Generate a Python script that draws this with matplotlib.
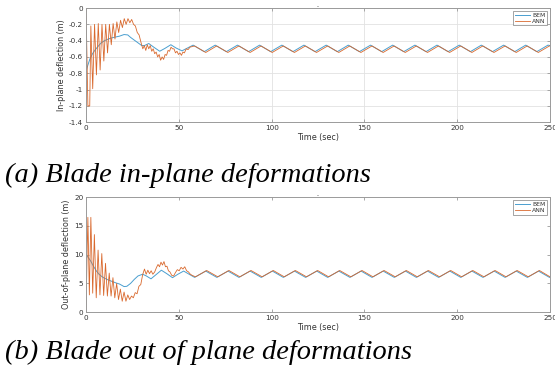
import matplotlib
matplotlib.use("Agg")
import matplotlib.pyplot as plt

# ---- data ----
# (a) in-plane deflection (m)
bem_in_t = [0, 1, 2, 3.5, 5, 6.5, 8, 10, 12, 14, 16, 18, 20.5, 22.5, 24, 25.5,
            27, 28.5, 30, 31.5, 33.8, 36.5, 39.7, 42.5, 45.7, 48.5, 51.7,
            57.7, 63.7, 69.6, 75.6, 81.6, 87.6, 93.5, 99.5, 105.5, 111.5, 117.4,
            123.4, 129.4, 135.4, 141.3, 147.3, 153.3, 159.3, 165.2, 171.2, 177.2,
            183.2, 189.1, 195.1, 201.1, 207.1, 213.0, 219.0, 225.0, 231.0, 236.9,
            242.9, 248.9, 250]
bem_in_v = [-0.78, -0.70, -0.63, -0.56, -0.51, -0.47, -0.43, -0.40, -0.38, -0.365,
            -0.355, -0.345, -0.325, -0.33, -0.36, -0.385, -0.41, -0.435, -0.46,
            -0.46, -0.435, -0.48, -0.53, -0.495, -0.45, -0.49, -0.525,
            -0.455, -0.535, -0.455, -0.535, -0.455, -0.535, -0.455, -0.535, -0.455,
            -0.535, -0.455, -0.535, -0.455, -0.535, -0.455, -0.535, -0.455, -0.535,
            -0.455, -0.535, -0.455, -0.535, -0.455, -0.535, -0.455, -0.535, -0.455,
            -0.535, -0.455, -0.535, -0.455, -0.535, -0.455, -0.46]

ann_in_t = [0, 0.5, 1.0, 2.0, 2.6, 3.6, 4.6, 5.6, 6.6, 7.6, 8.6, 9.6, 10.6, 11.6,
            12.6, 13.6, 14.6, 15.6, 16.6, 17.6, 18.6, 19.6, 20.6, 21.6, 22.6, 23.6,
            24.6, 25.6, 26.6, 27.6, 28.6, 29.6, 30.6, 31.4, 32.2, 33.0, 33.8, 34.6,
            35.4, 36.2, 37.0, 37.8, 38.6, 39.4, 40.2, 41.0, 41.8, 42.6, 43.4, 44.2,
            45.0, 45.8, 46.6, 47.4, 48.2, 49.0, 49.8, 50.6, 51.4, 52.2, 53.0, 54.0,
            55.0, 56.0, 58.5, 64.5, 70.4, 76.4, 82.4, 88.4, 94.3, 100.3, 106.3,
            112.3, 118.2, 124.2, 130.2, 136.2, 142.1, 148.1, 154.1, 160.1, 166.0,
            172.0, 178.0, 184.0, 189.9, 195.9, 201.9, 207.9, 213.8, 219.8, 225.8,
            231.8, 237.7, 243.7, 249.7, 250]
ann_in_v = [0.0, -0.6, -1.2, -1.2, -0.22, -0.99, -0.2, -0.82, -0.19, -0.76, -0.2,
            -0.65, -0.2, -0.55, -0.2, -0.45, -0.19, -0.38, -0.17, -0.3, -0.15,
            -0.24, -0.13, -0.2, -0.13, -0.18, -0.14, -0.2, -0.22, -0.3, -0.33,
            -0.42, -0.5, -0.46, -0.52, -0.45, -0.5, -0.46, -0.53, -0.5, -0.56,
            -0.54, -0.6, -0.57, -0.64, -0.6, -0.63, -0.57, -0.58, -0.52, -0.53,
            -0.48, -0.5, -0.5, -0.55, -0.53, -0.57, -0.55, -0.58, -0.54, -0.55,
            -0.5, -0.51, -0.48, -0.465, -0.545, -0.465, -0.545, -0.465, -0.545,
            -0.465, -0.545, -0.465, -0.545, -0.465, -0.545, -0.465, -0.545, -0.465,
            -0.545, -0.465, -0.545, -0.465, -0.545, -0.465, -0.545, -0.465, -0.545,
            -0.465, -0.545, -0.465, -0.545, -0.465, -0.545, -0.465, -0.545, -0.465,
            -0.465]

# (b) out-of-plane deflection (m)
bem_out_t = [0, 1, 2.5, 4, 5.5, 7, 8.5, 10, 12, 14, 16, 18, 20.5, 22, 24, 26, 28,
             30.5, 32.5, 35, 38, 40.6, 43.5, 46.6, 49.5, 52.6, 58.5, 64.5, 70.5,
             76.5, 82.4, 88.4, 94.4, 100.4, 106.3, 112.3, 118.3, 124.3, 130.2,
             136.2, 142.2, 148.2, 154.1, 160.1, 166.1, 172.1, 178.0, 184.0, 190.0,
             196.0, 201.9, 207.9, 213.9, 219.9, 225.8, 231.8, 237.8, 243.8, 249.7,
             250]
bem_out_v = [10.1, 9.6, 8.9, 8.0, 7.2, 6.6, 6.2, 5.9, 5.6, 5.35, 5.1, 4.9, 4.45,
             4.5, 5.0, 5.7, 6.3, 6.6, 6.3, 5.8, 6.6, 7.3, 6.7, 6.0, 6.6, 7.15, 6.05,
             7.15, 6.05, 7.15, 6.05, 7.15, 6.05, 7.15, 6.05, 7.15, 6.05, 7.15, 6.05,
             7.15, 6.05, 7.15, 6.05, 7.15, 6.05, 7.15, 6.05, 7.15, 6.05, 7.15, 6.05,
             7.15, 6.05, 7.15, 6.05, 7.15, 6.05, 7.15, 6.05, 6.06]

ann_out_t = [0, 0.5, 1.0, 1.8, 2.6, 3.6, 4.5, 5.5, 6.5, 7.5, 8.5, 9.5, 10.5, 11.5,
             12.5, 13.5, 14.5, 15.5, 16.5, 17.5, 18.5, 19.5, 20.5, 21.5, 22.5, 23.5,
             24.5, 25.5, 26.5, 27.5, 28.5, 29.5, 30.5, 31.5, 32.4, 33.3, 34.2, 35.1,
             36.0, 37.0, 38.0, 38.8, 39.6, 40.4, 41.2, 42.0, 42.8, 43.6, 44.4, 45.2,
             46.2, 47.2, 48.2, 49.2, 50.2, 51.2, 52.2, 53.2, 54.2, 55.2, 56.2, 57.2,
             59.0, 65.0, 71.0, 77.0, 82.9, 88.9, 94.9, 100.9, 106.8, 112.8, 118.8,
             124.8, 130.7, 136.7, 142.7, 148.7, 154.6, 160.6, 166.6, 172.6, 178.5,
             184.5, 190.5, 196.5, 202.4, 208.4, 214.4, 220.4, 226.3, 232.3, 238.3,
             244.3, 250]
ann_out_v = [0, 9, 16.5, 3.0, 16.5, 3.3, 13.5, 2.5, 10.8, 3.0, 10.2, 2.9, 8.5, 2.8,
             6.8, 2.8, 6.0, 2.5, 5.0, 2.2, 4.0, 1.9, 3.5, 1.9, 3.0, 2.2, 2.8, 2.5,
             3.4, 3.2, 4.5, 4.8, 6.5, 7.5, 6.6, 7.3, 6.7, 7.2, 6.6, 7.0, 7.8, 8.3,
             7.9, 8.7, 8.2, 8.8, 7.9, 8.0, 7.2, 7.0, 6.4, 6.3, 6.9, 7.4, 7.2, 7.8,
             7.5, 7.9, 7.2, 7.0, 6.6, 6.4, 6.15, 7.25, 6.15, 7.25, 6.15, 7.25, 6.15,
             7.25, 6.15, 7.25, 6.15, 7.25, 6.15, 7.25, 6.15, 7.25, 6.15, 7.25, 6.15,
             7.25, 6.15, 7.25, 6.15, 7.25, 6.15, 7.25, 6.15, 7.25, 6.15, 7.25, 6.15,
             7.25, 6.15]

x_ticks = [0, 50, 100, 150, 200, 250]
in_ticks = [0, -0.2, -0.4, -0.6, -0.8, -1, -1.2, -1.4]
in_labels = ["0", "-0.2", "-0.4", "-0.6", "-0.8", "-1", "-1.2", "-1.4"]
out_ticks = [0, 5, 10, 15, 20]

BLUE = "#4a9fd0"
ORANGE = "#d9692e"
SPINE = "#9a9a9a"
TXT = "#333333"


def _style(ax, grid):
    for s in ax.spines.values():
        s.set_color(SPINE)
        s.set_linewidth(0.7)
    ax.tick_params(direction="in", length=2.5, width=0.6, color=SPINE,
                   labelsize=5.2, labelcolor=TXT, pad=2,
                   top=True, right=True)
    if grid:
        ax.grid(True, color="#e2e2e2", linewidth=0.6)
        ax.set_axisbelow(True)


def _panel(ax, bem_t, bem_v, ann_t, ann_v, ylabel, grid):
    ax.plot(bem_t, bem_v, color=BLUE, lw=0.7, label="BEM")
    ax.plot(ann_t, ann_v, color=ORANGE, lw=0.6, label="ANN")
    ax.set_xlim(0, 250)
    ax.set_xticks(x_ticks)
    ax.set_xticklabels([str(t) for t in x_ticks])
    ax.set_xlabel("Time (sec)", fontsize=5.8, color=TXT, labelpad=1.5)
    ax.set_ylabel(ylabel, fontsize=5.8, color=TXT, labelpad=2)
    ax.set_title("-", fontsize=4, color=TXT, pad=0)
    _style(ax, grid)
    leg = ax.legend(loc="upper right", fontsize=4.4, frameon=True, fancybox=False,
                    handlelength=2.5, handletextpad=0.3, borderpad=0.25,
                    labelspacing=0.1, borderaxespad=0.5, labelcolor=TXT)
    leg.get_frame().set_edgecolor("#7a7a7a")
    leg.get_frame().set_linewidth(0.6)


fig = plt.figure(figsize=(5.55, 3.83), dpi=100)
fig.patch.set_facecolor("white")

ax1 = fig.add_axes([0.155, 0.681, 0.836, 0.298])
_panel(ax1, bem_in_t, bem_in_v, ann_in_t, ann_in_v, "In-plane deflection (m)", True)
ax1.set_ylim(-1.4, 0)
ax1.set_yticks(in_ticks)
ax1.set_yticklabels(in_labels)

ax2 = fig.add_axes([0.155, 0.185, 0.836, 0.300])
_panel(ax2, bem_out_t, bem_out_v, ann_out_t, ann_out_v,
       "Out-of-plane deflection (m)", False)
ax2.set_ylim(0, 20)
ax2.set_yticks(out_ticks)

cap = dict(fontsize=20.4, family="Liberation Serif", style="italic", color="black")
fig.text(0.009, 1 - 182 / 383, "(a) Blade in-plane deformations", va="baseline", **cap)
fig.text(0.009, 1 - 359 / 383, "(b) Blade out of plane deformations", va="baseline", **cap)

fig.savefig("out.png", dpi=100)
